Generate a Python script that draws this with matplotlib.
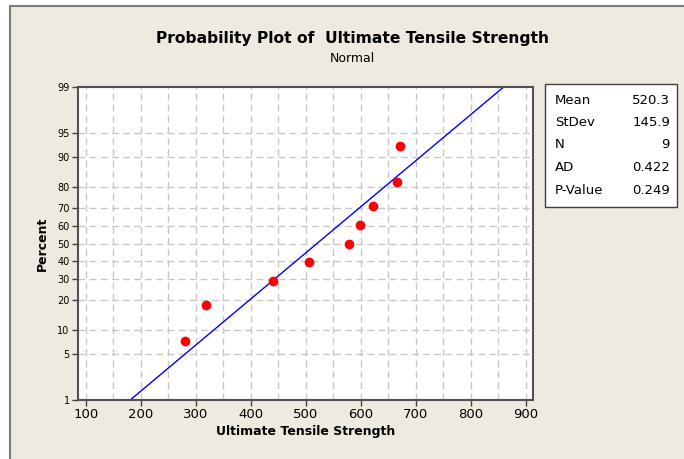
import matplotlib
matplotlib.use("Agg")
import matplotlib.pyplot as plt
from matplotlib.patches import Rectangle
from statistics import NormalDist
import numpy as np

# data
uts = [281, 318, 441, 506, 579, 599, 622, 666, 672]
percent = [7.4, 18.1, 28.7, 39.4, 50.0, 60.6, 71.3, 81.9, 92.6]

stat_names = ["Mean", "StDev", "N", "AD", "P-Value"]
stat_values = ["520.3", "145.9", "9", "0.422", "0.249"]
mean_fit = 520.3
sd_fit = 145.9

xticks = [100, 200, 300, 400, 500, 600, 700, 800, 900]
yticks = [1, 5, 10, 20, 30, 40, 50, 60, 70, 80, 90, 95, 99]

beige = "#EEEAE0"
gridc = "#C8C8C8"

nd = NormalDist()
_ppf = np.vectorize(nd.inv_cdf, otypes=[float])
_cdf = np.vectorize(nd.cdf, otypes=[float])

# normal probability scale (percent -> z)
def fwd(p):
    p = np.clip(np.asarray(p, dtype=float), 1e-9, 100 - 1e-9)
    return _ppf(p / 100.0)

def inv(z):
    return _cdf(np.asarray(z, dtype=float)) * 100.0


fig = plt.figure(figsize=(6.84, 4.59), dpi=100, facecolor="white")
# beige panel with the grey frame on top/left
fig.patches.append(Rectangle((10 / 684., -0.1), 1.2, 1.1 - 6 / 459.,
                             transform=fig.transFigure, facecolor=beige,
                             edgecolor="#7A7A7A", linewidth=1.5, zorder=-5))

ax = fig.add_axes([78 / 684., 1 - 400 / 459., (533 - 78) / 684., (400 - 87) / 459.])
ax.set_zorder(5)
ax.set_facecolor("white")
ax.set_yscale("function", functions=(fwd, inv))
ax.set_xlim(86, 913)
ax.set_ylim(1, 99)

# grid: vertical every 50, horizontal at the percent ticks
for gx in range(100, 901, 50):
    ax.axvline(gx, color=gridc, lw=1, ls=(0, (5, 3)), zorder=1)
for gy in yticks[1:-1]:
    ax.axhline(gy, color=gridc, lw=1, ls=(0, (5, 3)), zorder=1)

# fitted line across the full percent range
lim_pct = [1, 99]
fit_x = [mean_fit + sd_fit * nd.inv_cdf(p / 100.0) for p in lim_pct]
ax.plot(fit_x, lim_pct, color="#0000FF", lw=1, zorder=2)
ax.plot(uts, percent, "o", color="#FF0000", ms=6, mec="#FF0000", zorder=3)

ax.set_xticks(xticks)
ax.set_xticklabels([str(v) for v in xticks], fontsize=9.5)
ax.set_yticks(yticks)
ax.set_yticklabels([str(v) for v in yticks], fontsize=7)
ax.yaxis.set_minor_locator(plt.NullLocator())
ax.xaxis.set_minor_locator(plt.NullLocator())
ax.tick_params(direction="out", length=4, width=1, color="#404040", pad=2)
for s in ax.spines.values():
    s.set_color("#505050")
    s.set_linewidth(1.5)

ax.set_xlabel("Ultimate Tensile Strength", fontsize=9, fontweight="bold", labelpad=3)
ax.set_ylabel("Percent", fontsize=9, fontweight="bold", labelpad=6)

fig.text(352 / 684., 1 - 38 / 459., "Probability Plot of  Ultimate Tensile Strength",
         ha="center", va="center", fontsize=11.2, fontweight="bold")
fig.text(352 / 684., 1 - 58 / 459., "Normal", ha="center", va="center", fontsize=9)

# stats box
fig.patches.append(Rectangle((545 / 684., 1 - 207 / 459.), 132 / 684., 123 / 459.,
                             transform=fig.transFigure, facecolor="white",
                             edgecolor="#404040", linewidth=1, zorder=1))
for i, (nm, val) in enumerate(zip(stat_names, stat_values)):
    yy = 1 - (100 + i * 22.5) / 459.
    fig.text(555 / 684., yy, nm, ha="left", va="center", fontsize=9.5)
    fig.text(670 / 684., yy, val, ha="right", va="center", fontsize=9.5)

fig.savefig("out.png", dpi=100, facecolor=fig.get_facecolor())
